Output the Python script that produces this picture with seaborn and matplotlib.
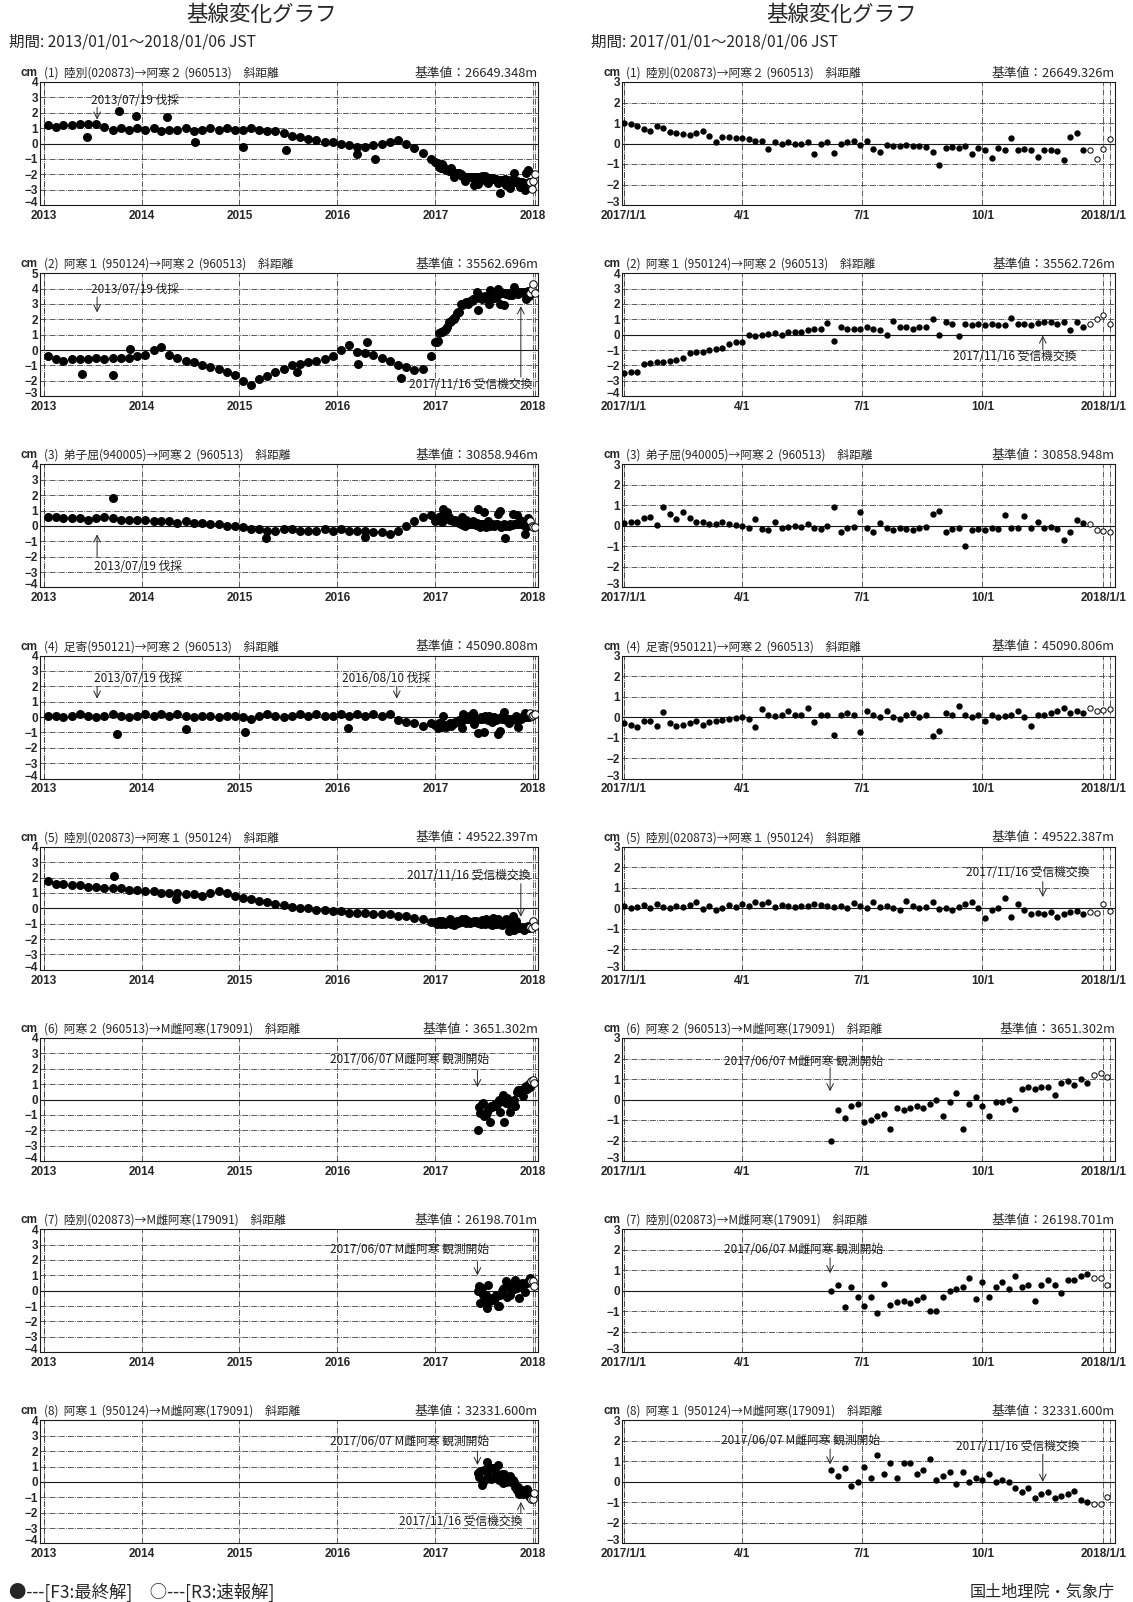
import numpy as np
import pandas as pd
import matplotlib
matplotlib.use("Agg")
import matplotlib.pyplot as plt
import matplotlib.dates as mdates
from matplotlib.transforms import ScaledTranslation
import seaborn as sns

# ---------------- data ----------------
titles = [
    "(1)  陸別(020873)→阿寒２ (960513)　斜距離",
    "(2)  阿寒１ (950124)→阿寒２ (960513)　斜距離",
    "(3)  弟子屈(940005)→阿寒２ (960513)　斜距離",
    "(4)  足寄(950121)→阿寒２ (960513)　斜距離",
    "(5)  陸別(020873)→阿寒１ (950124)　斜距離",
    "(6)  阿寒２ (960513)→M雌阿寒(179091)　斜距離",
    "(7)  陸別(020873)→M雌阿寒(179091)　斜距離",
    "(8)  阿寒１ (950124)→M雌阿寒(179091)　斜距離",
]
base_long = ["26649.348", "35562.696", "30858.946", "45090.808",
             "49522.397", "3651.302", "26198.701", "32331.600"]
base_short = ["26649.326", "35562.726", "30858.948", "45090.806",
              "49522.387", "3651.302", "26198.701", "32331.600"]

long_months = pd.date_range("2013-01-01", "2016-12-01", freq="MS") + pd.Timedelta(days=14)
short_dates = pd.date_range("2017-01-01", "2018-01-06", freq="5D")
new_dates = pd.date_range("2017-06-08", periods=43, freq="5D")
r3_start = pd.Timestamp("2017-12-22")

# monthly values 2013-2016 (long period, cm)
l1 = [1.2, 1.1, 1.2, 1.2, 1.25, 1.3, 1.3, 1.1, 0.9, 1.0, 0.9, 1.0,
      0.9, 1.0, 0.8, 0.9, 0.9, 1.0, 0.8, 0.9, 1.0, 0.9, 1.0, 0.9,
      0.9, 1.0, 0.9, 0.8, 0.8, 0.7, 0.5, 0.4, 0.3, 0.2, 0.1, 0.1,
      0.0, -0.1, -0.2, -0.2, -0.1, 0.0, 0.1, 0.2, 0.0, -0.3, -0.6, -1.0]
l2 = [-0.4, -0.6, -0.7, -0.6, -0.6, -0.6, -0.5, -0.6, -0.5, -0.5, -0.5, -0.4,
      -0.3, 0.0, 0.2, -0.3, -0.5, -0.7, -0.8, -1.0, -1.1, -1.2, -1.4, -1.6,
      -2.0, -2.3, -1.9, -1.7, -1.4, -1.2, -1.0, -0.9, -0.8, -0.7, -0.6, -0.4,
      0.0, 0.3, -0.1, -0.2, -0.3, -0.5, -0.7, -1.0, -1.1, -1.3, -1.2, -0.4]
l3 = [0.6, 0.6, 0.5, 0.5, 0.5, 0.4, 0.5, 0.6, 0.5, 0.4, 0.4, 0.4,
      0.4, 0.3, 0.3, 0.3, 0.2, 0.3, 0.2, 0.2, 0.1, 0.1, 0.0, 0.0,
      -0.1, -0.2, -0.2, -0.3, -0.3, -0.2, -0.2, -0.3, -0.3, -0.3, -0.2, -0.3,
      -0.2, -0.3, -0.3, -0.3, -0.4, -0.4, -0.5, -0.3, 0.0, 0.3, 0.6, 0.7]
l4 = [0.1, 0.1, 0.0, 0.1, 0.2, 0.1, 0.0, 0.1, 0.2, 0.1, 0.0, 0.1,
      0.2, 0.1, 0.2, 0.1, 0.2, 0.1, 0.0, 0.1, 0.1, 0.0, 0.1, 0.1,
      0.0, -0.1, 0.1, 0.2, 0.1, 0.0, 0.1, 0.2, 0.1, 0.2, 0.1, 0.1,
      0.2, 0.1, 0.2, 0.1, 0.2, 0.1, 0.2, -0.2, -0.3, -0.4, -0.6, -0.4]
l5 = [1.8, 1.6, 1.6, 1.5, 1.5, 1.4, 1.4, 1.3, 1.3, 1.3, 1.2, 1.2,
      1.1, 1.1, 1.0, 1.0, 1.0, 0.9, 0.9, 0.8, 1.0, 1.1, 1.0, 0.8,
      0.7, 0.6, 0.5, 0.4, 0.3, 0.2, 0.1, 0.0, 0.0, -0.1, -0.1, -0.2,
      -0.2, -0.3, -0.3, -0.3, -0.4, -0.4, -0.4, -0.5, -0.5, -0.6, -0.7, -0.9]

# scattered points off the band, 2013-2016
l1_out_dates = ["2013-06-10", "2013-10-08", "2013-12-12", "2014-04-05", "2014-07-20",
                "2015-01-15", "2015-06-25", "2016-03-15", "2016-05-20"]
l1_out_vals = [0.4, 2.1, 1.8, 1.75, 0.1, -0.2, -0.4, -0.7, -1.0]
l2_out_dates = ["2013-05-25", "2013-09-15", "2013-11-20", "2015-08-05",
                "2016-03-20", "2016-04-20", "2016-08-25"]
l2_out_vals = [-1.55, -1.6, 0.05, -1.4, -0.9, 0.5, -1.8]
l3_out_dates = ["2013-09-15", "2015-04-10", "2016-04-15"]
l3_out_vals = [1.8, -0.8, -0.7]
l4_out_dates = ["2013-10-01", "2014-06-15", "2015-01-20", "2016-02-10"]
l4_out_vals = [-1.1, -0.8, -1.0, -0.7]
l5_out_dates = ["2013-09-20", "2014-05-10"]
l5_out_vals = [2.1, 0.6]

# 5-day values 2017/01/01 - 2018/01/06 (short period, cm)
r1 = [1.0, 0.95, 0.85, 0.7, 0.6, 0.85, 0.75,
      0.55, 0.5, 0.45, 0.4, 0.5,
      0.6, 0.35, 0.05, 0.3, 0.3, 0.25,
      0.25, 0.2, 0.1, 0.1, -0.25, 0.05,
      0.0, 0.05, 0.0, 0.0, 0.05, -0.5, 0.0,
      0.05, -0.45, 0.0, 0.05, 0.1, -0.05,
      0.1, -0.25, -0.4, -0.05, -0.1, -0.1,
      -0.05, -0.1, -0.1, -0.15, -0.4, -1.05,
      -0.2, -0.15, -0.2, -0.1, -0.5, -0.2,
      -0.3, -0.7, -0.2, -0.3, 0.25, -0.3,
      -0.25, -0.3, -0.65, -0.3, -0.3, -0.35,
      -0.8, 0.3, 0.5, -0.3, -0.3, -0.75,
      -0.25, 0.2]
r2 = [-2.5, -2.45, -2.4, -1.9, -1.85, -1.8, -1.75,
      -1.7, -1.65, -1.5, -1.2, -1.15,
      -1.1, -1.0, -0.95, -0.85, -0.6, -0.5,
      -0.5, 0.0, -0.1, 0.0, 0.05, 0.1,
      0.0, 0.15, 0.2, 0.2, 0.3, 0.35, 0.4,
      0.75, -0.4, 0.5, 0.4, 0.35, 0.4,
      0.5, 0.4, 0.3, 0.0, 0.9, 0.5,
      0.5, 0.4, 0.5, 0.5, 1.0, 0.0,
      0.8, 0.7, -0.1, 0.7, 0.65, 0.7,
      0.6, 0.7, 0.6, 0.65, 1.1, 0.7,
      0.7, 0.65, 0.75, 0.8, 0.8, 0.7,
      0.8, 0.3, 0.85, 0.5, 0.7, 1.0,
      1.3, 0.7]
r3 = [0.15, 0.2, 0.2, 0.4, 0.45, 0.05, 0.9,
      0.6, 0.35, 0.7, 0.4, 0.2,
      0.2, 0.1, 0.1, 0.2, 0.1, 0.05,
      0.0, -0.1, 0.35, -0.15, -0.2, 0.2,
      -0.1, -0.05, 0.0, -0.05, 0.1, -0.1, -0.15,
      0.0, 0.9, -0.3, -0.1, -0.05, 0.7,
      -0.1, -0.3, 0.15, -0.1, -0.2, -0.1,
      -0.15, -0.2, -0.1, -0.05, 0.6, 0.75,
      -0.3, -0.15, -0.1, -1.0, -0.2, -0.15,
      -0.2, -0.1, -0.15, 0.55, -0.1, -0.1,
      0.5, -0.1, 0.2, -0.1, -0.05, -0.15,
      -0.7, -0.3, 0.3, 0.15, 0.1, -0.2,
      -0.25, -0.3]
r4 = [-0.3, -0.4, -0.5, -0.2, -0.2, -0.45, 0.25,
      -0.3, -0.45, -0.4, -0.3, -0.2,
      -0.4, -0.25, -0.2, -0.15, -0.1, -0.05,
      0.0, -0.1, -0.5, 0.4, 0.1, 0.05,
      0.1, 0.3, 0.1, 0.1, 0.45, -0.25, 0.1,
      0.1, -0.85, 0.1, 0.2, 0.1, -0.75,
      0.3, 0.1, 0.0, 0.3, 0.0, -0.1,
      0.1, 0.2, 0.0, 0.1, -0.9, -0.7,
      0.2, 0.1, 0.55, 0.1, 0.0, 0.1,
      -0.2, 0.1, 0.0, 0.05, 0.1, 0.3,
      0.0, -0.45, 0.1, 0.1, 0.2, 0.3,
      0.45, 0.2, 0.3, 0.2, 0.45, 0.3,
      0.35, 0.4]
r5 = [0.1, 0.0, 0.05, 0.15, 0.0, 0.2, 0.05,
      0.0, 0.1, 0.05, 0.15, 0.3,
      -0.05, 0.1, -0.1, 0.0, 0.15, 0.05,
      0.2, 0.1, 0.3, 0.2, 0.3, 0.05,
      0.15, 0.1, 0.05, 0.1, 0.1, 0.2, 0.15,
      0.1, 0.05, 0.1, 0.0, 0.25, 0.1,
      0.0, 0.3, 0.05, 0.1, 0.0, -0.1,
      0.35, 0.1, 0.0, 0.05, 0.3, -0.05,
      0.0, -0.1, 0.05, 0.2, 0.3, 0.0,
      -0.45, -0.1, 0.0, 0.5, -0.4, 0.2,
      -0.1, -0.3, -0.25, -0.3, -0.2, -0.4,
      -0.3, -0.2, -0.15, -0.3, -0.2, -0.25,
      0.2, -0.15]

# 5-day values from 2017/06/08 (M雌阿寒 baselines, cm)
m6 = [-2.0, -0.5, -0.9, -0.3, -0.2, -1.1, -1.0, -0.8, -0.7, -1.45,
      -0.4, -0.5, -0.4, -0.3, -0.4, -0.2, 0.0, -0.8, -0.1, 0.3,
      -1.45, -0.2, 0.1, -0.3, -0.8, -0.1, -0.1, 0.0, -0.45, 0.5,
      0.6, 0.5, 0.6, 0.6, 0.2, 0.8, 0.9, 0.7, 1.0, 0.8,
      1.2, 1.3, 1.1]
m7 = [0.0, 0.3, -0.8, 0.2, -0.3, -0.75, -0.3, -1.1, 0.35, -0.7,
      -0.55, -0.5, -0.6, -0.45, -0.3, -1.0, -1.0, -0.3, 0.0, 0.1,
      0.2, 0.6, -0.4, 0.4, -0.3, 0.2, 0.4, 0.1, 0.7, 0.2,
      0.3, -0.5, 0.3, 0.5, 0.3, -0.1, 0.5, 0.5, 0.7, 0.8,
      0.6, 0.6, 0.3]
m8 = [0.6, 0.3, 0.7, -0.2, 0.0, 0.75, 0.2, 1.3, 0.4, 0.9,
      0.2, 0.9, 0.9, 0.4, 0.6, 1.1, 0.1, 0.3, 0.5, -0.1,
      0.5, 0.0, 0.2, 0.1, 0.4, 0.0, 0.1, 0.0, -0.3, -0.5,
      -0.3, -0.8, -0.6, -0.5, -0.8, -0.7, -0.6, -0.45, -0.9, -1.0,
      -1.1, -1.1, -0.75]

long_vals = [l1, l2, l3, l4, l5]
long_out = [(l1_out_dates, l1_out_vals), (l2_out_dates, l2_out_vals),
            (l3_out_dates, l3_out_vals), (l4_out_dates, l4_out_vals),
            (l5_out_dates, l5_out_vals)]
short_vals = [r1, r2, r3, r4, r5]
new_vals = [m6, m7, m8]

# annotations: column, panel, text, date, text y, arrow from, arrow to, x shift (px), align
notes = [
    (0, 0, "2013/07/19 伐採", "2013-07-19", 2.8, 2.35, 1.55, -6, "left"),
    (0, 1, "2013/07/19 伐採", "2013-07-19", 3.95, 3.45, 2.45, -6, "left"),
    (0, 1, "2017/11/16 受信機交換", "2017-11-16", -2.25, -1.75, 2.85, 12, "right"),
    (0, 2, "2013/07/19 伐採", "2013-07-19", -2.65, -2.0, -0.55, -3, "left"),
    (0, 3, "2013/07/19 伐採", "2013-07-19", 2.5, 2.0, 1.2, -3, "left"),
    (0, 3, "2016/08/10 伐採", "2016-08-10", 2.5, 2.0, 1.2, -55, "left"),
    (0, 4, "2017/11/16 受信機交換", "2017-11-16", 2.15, 1.6, -0.55, 10, "right"),
    (0, 5, "2017/06/07 M雌阿寒 観測開始", "2017-06-07", 2.6, 1.9, 0.8, 12, "right"),
    (0, 6, "2017/06/07 M雌阿寒 観測開始", "2017-06-07", 2.65, 1.9, 1.0, 12, "right"),
    (0, 7, "2017/06/07 M雌阿寒 観測開始", "2017-06-07", 2.6, 2.0, 1.1, 12, "right"),
    (0, 7, "2017/11/16 受信機交換", "2017-11-16", -2.55, -2.0, -1.3, 2, "right"),
    (1, 1, "2017/11/16 受信機交換", "2017-11-16", -1.45, -0.95, -0.05, -28, "center"),
    (1, 4, "2017/11/16 受信機交換", "2017-11-16", 1.75, 1.3, 0.55, -15, "center"),
    (1, 5, "2017/06/07 M雌阿寒 観測開始", "2017-06-07", 1.85, 1.55, 0.4, -27, "center"),
    (1, 6, "2017/06/07 M雌阿寒 観測開始", "2017-06-07", 2.0, 1.6, 0.85, -27, "center"),
    (1, 7, "2017/06/07 M雌阿寒 観測開始", "2017-06-07", 2.0, 1.6, 0.85, -30, "center"),
    (1, 7, "2017/11/16 受信機交換", "2017-11-16", 1.75, 1.35, 0.0, -25, "center"),
]

# ---------------- style ----------------
sns.set_theme(style="white")
JP = ["Noto Sans CJK JP", "DejaVu Sans"]
NUM = ["Liberation Sans Narrow", "Liberation Sans", "DejaVu Sans"]
ANN = ["Liberation Sans Narrow", "Noto Sans CJK JP", "DejaVu Sans"]
plt.rcParams["font.family"] = JP

W, H = 1133, 1602
fig = plt.figure(figsize=(W / 100, H / 100), dpi=100)
fig.patch.set_facecolor("white")

cols = [
    dict(x0=40, x1=538,
         xlim=(pd.Timestamp("2012-12-18"), pd.Timestamp("2018-01-19")),
         ticks=[pd.Timestamp(f"{y}-01-01") for y in range(2013, 2019)],
         labels=[str(y) for y in range(2013, 2019)],
         bounds=[pd.Timestamp("2013-01-01"), pd.Timestamp("2018-01-06")],
         size=42, header="期間: 2013/01/01～2018/01/06 JST"),
    dict(x0=622, x1=1115,
         xlim=(pd.Timestamp("2016-12-30 12:00"), pd.Timestamp("2018-01-10")),
         ticks=[pd.Timestamp(d) for d in ["2017-01-01", "2017-04-01", "2017-07-01",
                                           "2017-10-01", "2018-01-01"]],
         labels=["2017/1/1", "4/1", "7/1", "10/1", "2018/1/1"],
         bounds=[pd.Timestamp("2017-01-01"), pd.Timestamp("2018-01-06")],
         size=21, header="期間: 2017/01/01～2018/01/06 JST"),
]
GRID = dict(color="0.25", lw=0.6, ls=(0, (7, 1.5, 1, 1.5)))


def series(col, k):
    """Return the dataframe of one panel."""
    if k >= 5:
        d = pd.DataFrame({"date": new_dates, "cm": new_vals[k - 5]})
    else:
        off = (float(base_short[k]) - float(base_long[k])) * 100
        short = np.array(short_vals[k])
        if col == 1:
            d = pd.DataFrame({"date": short_dates, "cm": short})
        else:
            od, ov = long_out[k]
            d = pd.concat([
                pd.DataFrame({"date": long_months, "cm": long_vals[k]}),
                pd.DataFrame({"date": pd.to_datetime(od), "cm": ov}),
                pd.DataFrame({"date": short_dates, "cm": short + off}),
            ], ignore_index=True)
    d["sol"] = np.where(d["date"] >= r3_start, "R3", "F3")
    return d


axes = [[], []]
for col, c in enumerate(cols):
    for k in range(8):
        top = 82 + 191.2 * k
        ax = fig.add_axes([c["x0"] / W, 1 - (top + 123) / H,
                           (c["x1"] - c["x0"]) / W, 123 / H])
        axes[col].append(ax)
        if col == 0:
            lo, hi = (-3, 5) if k == 1 else (-4, 4)
        else:
            lo, hi = (-4, 4) if k == 1 else (-3, 3)

        for y in range(lo + 1, hi):
            if y == 0:
                ax.axhline(0, color="0.1", lw=0.8, zorder=1)
            else:
                ax.axhline(y, zorder=1, **GRID)
        for t in c["ticks"] + c["bounds"]:
            ax.axvline(t, zorder=1, **GRID)

        df = series(col, k)
        sns.scatterplot(data=df[df.sol == "F3"], x="date", y="cm", ax=ax,
                        color="black", s=c["size"], linewidth=0, legend=False, zorder=3)
        sns.scatterplot(data=df[df.sol == "R3"], x="date", y="cm", ax=ax,
                        color="white", edgecolor="black", s=c["size"] * 0.7,
                        linewidth=0.7, legend=False, zorder=3)

        ax.set_xlim(*c["xlim"])
        ax.set_ylim(lo, hi)
        ax.set_xlabel("")
        ax.set_ylabel("")
        ax.set_xticks(c["ticks"])
        ax.set_xticklabels(c["labels"], family=NUM, fontweight="bold", fontsize=8.5)
        ax.set_yticks(range(lo, hi + 1))
        ax.set_yticklabels([str(v).replace("-", "−") for v in range(lo, hi + 1)],
                           family=NUM, fontweight="bold", fontsize=8.5)
        ax.tick_params(axis="y", length=0, pad=1.5)
        ax.tick_params(axis="x", length=0, pad=3.5)
        # lift the lowest y label a little so it clears the date labels
        low = ax.get_yticklabels()[0]
        low.set_transform(low.get_transform() + ScaledTranslation(0, 2.5 / 72, fig.dpi_scale_trans))
        for s in ax.spines.values():
            s.set_color("0.1")
            s.set_linewidth(0.8)

        yt = 1 - (top - 9) / H
        fig.text((c["x0"] - 19) / W, yt, "cm", ha="left", va="center",
                 family=NUM, fontweight="bold", fontsize=8.5)
        fig.text((c["x0"] + 4) / W, yt, titles[k], ha="left", va="center", fontsize=8.5)
        base = base_long[k] if col == 0 else base_short[k]
        fig.text(c["x1"] / W, yt, f"基準値：{base}m", ha="right", va="center", fontsize=9.2)

    fig.text((c["x0"] - 31) / W, 1 - 42 / H, c["header"], ha="left", va="center", fontsize=11.2)

fig.text(261 / W, 1 - 15 / H, "基線変化グラフ", ha="center", va="center", fontsize=15.5)
fig.text(841 / W, 1 - 15 / H, "基線変化グラフ", ha="center", va="center", fontsize=15.5)

for col, k, txt, d, ty, y0, y1, dx, ha in notes:
    ax = axes[col][k]
    xd = mdates.date2num(pd.Timestamp(d))
    ax.annotate("", xy=(xd, y1), xytext=(xd, y0),
                arrowprops=dict(arrowstyle="->", lw=0.7, color="0.15",
                                shrinkA=0, shrinkB=0), zorder=4)
    ax.annotate(txt, xy=(xd, ty), xytext=(dx * 0.72, 0), textcoords="offset points",
                ha=ha, va="center", family=ANN, fontsize=8.5, color="0.1", zorder=4)

fig.text(9 / W, 1 - 1592 / H, "●---[F3:最終解]　○---[R3:速報解]",
         ha="left", va="center", fontsize=12.5)
fig.text(1115 / W, 1 - 1592 / H, "国土地理院・気象庁", ha="right", va="center", fontsize=11.6)

fig.savefig("out.png", dpi=100, facecolor="white")
